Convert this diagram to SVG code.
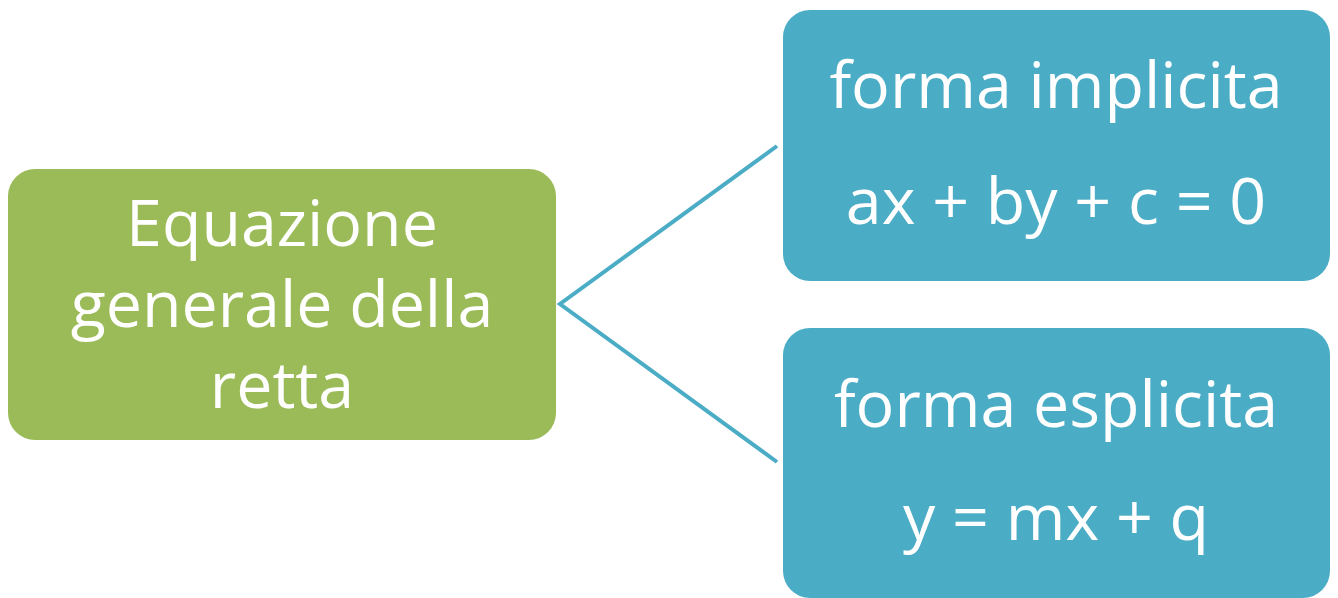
<svg xmlns="http://www.w3.org/2000/svg" width="1338" height="598" viewBox="0 0 1338 598">
<style>
.t{font-family:"Open Sans","Noto Sans",sans-serif;font-size:64.5px;fill:#ffffff;text-anchor:middle}
.c{stroke:#4bacc6;stroke-width:4;fill:none}
</style>
<rect width="1338" height="598" fill="#ffffff"/>
<g id="connectors">
<path class="c" d="M777,146 L560,304 L777,462"/>
</g>
<g id="n1">
<rect x="8" y="169" width="548" height="271" rx="27" fill="#9bbb59"/>
<text class="t" x="282" y="246">Equazione</text>
<text class="t" x="282" y="327">generale della</text>
<text class="t" x="282" y="408">retta</text>
</g>
<g id="n2">
<rect x="783" y="10" width="547" height="271" rx="27" fill="#4bacc6"/>
<text class="t" x="1056" y="108">forma implicita</text>
<text class="t" x="1056" y="224">ax + by + c = 0</text>
</g>
<g id="n3">
<rect x="783" y="328" width="547" height="270" rx="27" fill="#4bacc6"/>
<text class="t" x="1056" y="427">forma esplicita</text>
<text class="t" x="1056" y="540">y = mx + q</text>
</g>
</svg>
